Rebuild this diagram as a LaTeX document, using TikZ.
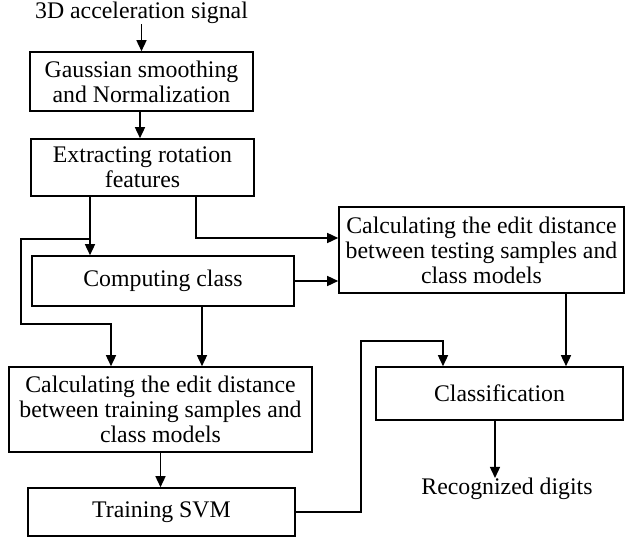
\documentclass[tikz,border=0pt]{standalone}
\usepackage{fontspec}
\setmainfont{Liberation Serif}
\usetikzlibrary{arrows.meta}
\begin{document}
\begin{tikzpicture}[x=1pt,y=-1pt,
  every node/.style={font=\fontsize{23.8}{25}\selectfont, inner sep=0pt, align=center},
  stepbox/.style={draw, line width=1.6pt, minimum width=#1},
  label/.style={},
  flow/.style={line width=1.5pt, -{Triangle[length=11pt,width=10pt]}}]
\useasboundingbox (0,0) rectangle (625,537);

% processing blocks
\node[label] (signal) at (141.5,13) {3D acceleration signal};
\node[stepbox=223pt, minimum height=59pt] (gauss) at (141.5,81.5) {Gaussian smoothing\\and Normalization};
\node[stepbox=223pt, minimum height=57pt] (extract) at (142.5,167.5) {Extracting rotation\\features};
\node[stepbox=262pt, minimum height=50pt] (compute) at (163,281) {Computing class};
\node[stepbox=285pt, minimum height=86pt] (test) at (481.5,250) {Calculating the edit distance\\between testing samples and\\class models};
\node[stepbox=303pt, minimum height=85pt] (train) at (160.5,409.5) {Calculating the edit distance\\between training samples and\\class models};
\node[stepbox=267pt, minimum height=48pt] (svm) at (161.5,512) {Training SVM};
\node[stepbox=247pt, minimum height=53pt] (classif) at (499.5,393.5) {Classification};
\node[label] (digits) at (507,489) {Recognized digits};

% connectors
\draw[flow] (signal.south) -- (gauss.north);
\draw[flow] ([xshift=-1.5pt]gauss.south) -- ([xshift=-1.5pt]gauss.south |- extract.north);
\draw[flow] ([xshift=-52.5pt]extract.south) -- ([xshift=-52.5pt]extract.south |- compute.north);
\draw[flow] ([xshift=53.5pt]extract.south) |- ([yshift=12pt]test.west);
\draw[flow] ([xshift=-52.5pt]extract.south) ++(0,42) -| ++(-69,85) -| ([xshift=-49.5pt]train.north);
\draw[flow] (compute.east) -- (compute.east -| test.west);
\draw[flow] ([xshift=39pt]compute.south) -- ([xshift=39pt]compute.south |- train.north);
\draw[flow] (train.south) -- (train.south |- svm.north);
\draw[flow] ([xshift=84.5pt]test.south) -- ([xshift=84.5pt]test.south |- classif.north);
\draw[flow] (svm.east) -| ++(65,-171) -| ([xshift=-56.5pt]classif.north);
\draw[flow] ([xshift=-4.5pt]classif.south) -- ([xshift=-4.5pt]classif.south |- digits.north);
\end{tikzpicture}
\end{document}
